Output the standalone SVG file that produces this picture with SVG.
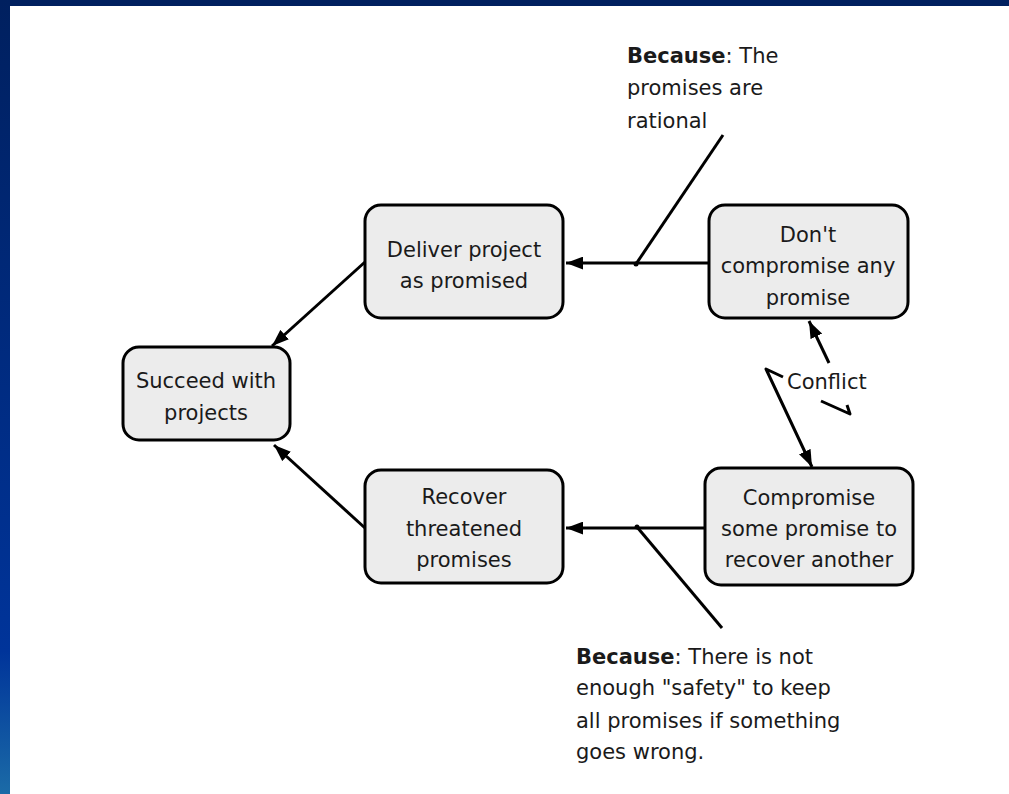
<svg xmlns="http://www.w3.org/2000/svg" width="1009" height="794" viewBox="0 0 1009 794">
<defs>
<linearGradient id="side" x1="0" y1="0" x2="0" y2="1">
<stop offset="0" stop-color="#00205f"/>
<stop offset="0.82" stop-color="#00349a"/>
<stop offset="1" stop-color="#1b6ba7"/>
</linearGradient>
<marker id="arr" viewBox="0 0 16 12" refX="16" refY="6" markerWidth="17" markerHeight="13" markerUnits="userSpaceOnUse" orient="auto">
<path d="M0,0 L16,6 L0,12 Z" fill="#000"/>
</marker>
<style>
.box{fill:#ececec;stroke:#000;stroke-width:3}
.t{font-family:"DejaVu Sans","Liberation Sans",sans-serif;font-size:21px;fill:#1a1a1a;text-anchor:middle}
.n{font-family:"DejaVu Sans","Liberation Sans",sans-serif;font-size:21px;fill:#1a1a1a}
.b{font-weight:bold}
.ln{fill:none;stroke:#000;stroke-width:3;stroke-linejoin:round}
.dot{fill:#000}
</style>
</defs>
<rect x="0" y="0" width="1009" height="794" fill="#fff"/>
<rect x="0" y="0" width="1009" height="6" fill="#00205f"/>
<rect x="0" y="0" width="10" height="794" fill="url(#side)"/>

<g id="connectors">
<line class="ln" x1="709" y1="263" x2="566" y2="263" marker-end="url(#arr)"/>
<line class="ln" x1="636" y1="264" x2="723" y2="135"/>
<circle class="dot" cx="636" cy="264" r="2.5"/>
<line class="ln" x1="705" y1="528" x2="566" y2="528" marker-end="url(#arr)"/>
<line class="ln" x1="637" y1="527" x2="722" y2="628"/>
<circle class="dot" cx="637" cy="527" r="2.5"/>
<line class="ln" x1="365" y1="262" x2="272" y2="346" marker-end="url(#arr)"/>
<line class="ln" x1="365" y1="528" x2="274" y2="445" marker-end="url(#arr)"/>
<line class="ln" x1="829" y1="363" x2="809" y2="321" marker-end="url(#arr)"/>
<polyline class="ln" points="783,377 766,369 812,467" marker-end="url(#arr)"/>
<polyline class="ln" points="821,401 850,414 847,405"/>
</g>

<g id="deliver">
<rect class="box" x="365" y="205" width="198" height="113" rx="16"/>
<text class="t" x="464" y="257">Deliver project</text>
<text class="t" x="464" y="288">as promised</text>
</g>
<g id="succeed">
<rect class="box" x="123" y="347" width="167" height="93" rx="16"/>
<text class="t" x="206" y="388">Succeed with</text>
<text class="t" x="206" y="420">projects</text>
</g>
<g id="dont">
<rect class="box" x="709" y="205" width="199" height="113" rx="16"/>
<text class="t" x="808" y="242">Don't</text>
<text class="t" x="808" y="273">compromise any</text>
<text class="t" x="808" y="305">promise</text>
</g>
<g id="recover">
<rect class="box" x="365" y="470" width="198" height="113" rx="16"/>
<text class="t" x="464" y="504">Recover</text>
<text class="t" x="464" y="536">threatened</text>
<text class="t" x="464" y="567">promises</text>
</g>
<g id="compromise">
<rect class="box" x="705" y="468" width="208" height="117" rx="16"/>
<text class="t" x="809" y="505">Compromise</text>
<text class="t" x="809" y="536">some promise to</text>
<text class="t" x="809" y="567">recover another</text>
</g>
<g id="because1">
<text class="n" x="627" y="63"><tspan class="b">Because</tspan>: The</text>
<text class="n" x="627" y="95">promises are</text>
<text class="n" x="627" y="128">rational</text>
</g>
<g id="because2">
<text class="n" x="576" y="664"><tspan class="b">Because</tspan>: There is not</text>
<text class="n" x="576" y="695">enough "safety" to keep</text>
<text class="n" x="576" y="728">all promises if something</text>
<text class="n" x="576" y="759">goes wrong.</text>
</g>
<g id="conflict">
<text class="n" x="787" y="389">Conflict</text>
</g>
</svg>
